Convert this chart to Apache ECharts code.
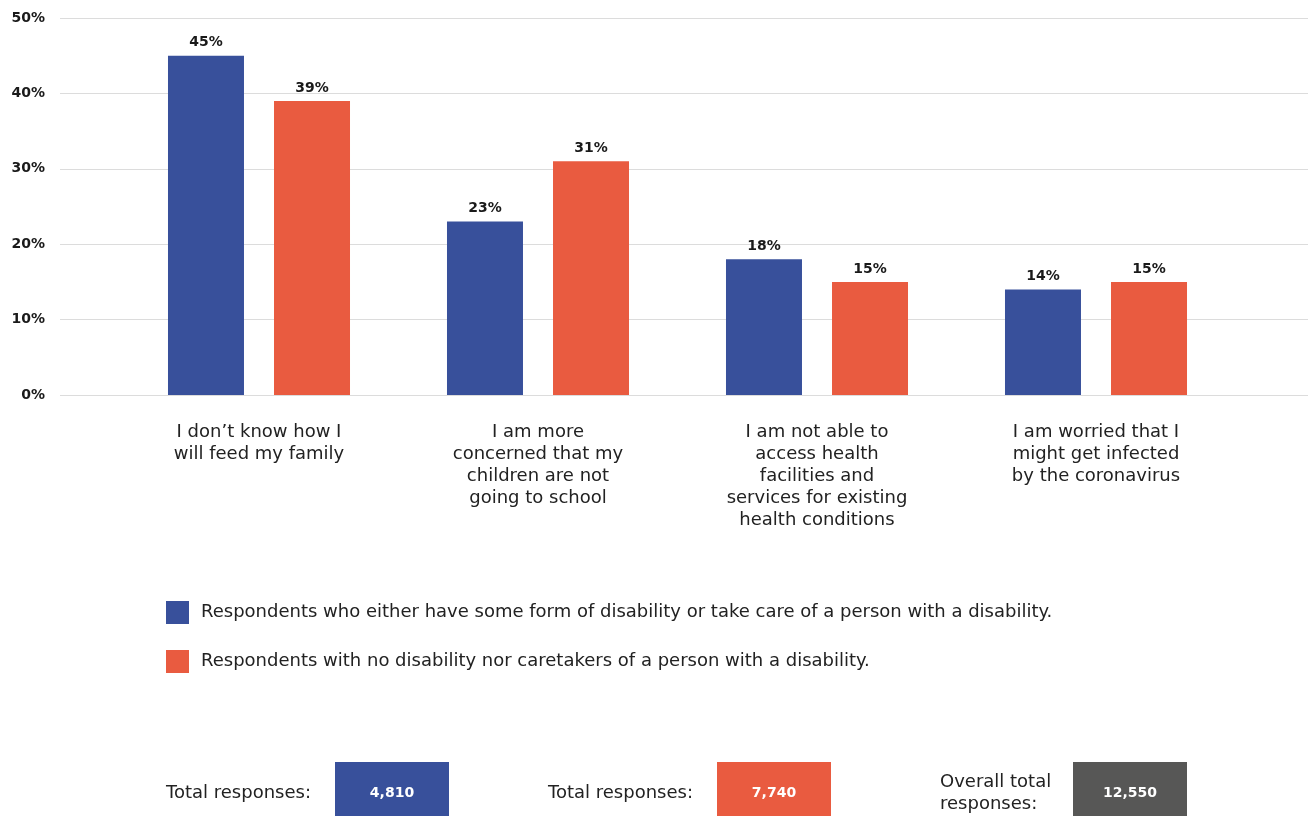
<!DOCTYPE html>
<html>
<head>
<meta charset="utf-8">
<script src="https://cdn.jsdelivr.net/npm/echarts@6/dist/echarts.min.js"></script>
<style>html,body{margin:0;padding:0;background:#fff}#c{width:1308px;height:816px}</style>
</head>
<body>
<div id="c"></div>
<script>
const categories = [
  "I don\u2019t know how I\nwill feed my family",
  "I am more\nconcerned that my\nchildren are not\ngoing to school",
  "I am not able to\naccess health\nfacilities and\nservices for existing\nhealth conditions",
  "I am worried that I\nmight get infected\nby the coronavirus"
];
const seriesNames = [
  "Respondents who either have some form of disability or take care of a person with a disability.",
  "Respondents with no disability nor caretakers of a person with a disability."
];
const disabilityValues = [45, 23, 18, 14];
const noDisabilityValues = [39, 31, 15, 15];
const yTicks = [0, 10, 20, 30, 40, 50];
const totalLabels = ["Total responses:", "Total responses:", "Overall total\nresponses:"];
const totalValues = ["4,810", "7,740", "12,550"];

const BLUE = "#38509B", ORANGE = "#E95B40", GRAY = "#575756";
const FONT = "DejaVu Sans";
const FS = 18;

const chart = echarts.init(document.getElementById('c'), null, {renderer: 'canvas'});
const valueLabel = {show: true, position: 'top', distance: 6, formatter: '{c}%', fontFamily: FONT, fontWeight: 'bold', fontSize: 14, color: '#1a1a1a'};

const boxX = [335, 717, 1073];
const textX = [166, 548, 940];
const graphics = [];
totalValues.forEach((v, i) => {
  graphics.push({type: 'rect', left: boxX[i], top: 762, shape: {width: 114, height: 54}, style: {fill: [BLUE, ORANGE, GRAY][i]}});
  graphics.push({type: 'text', x: boxX[i] + 57, y: 793, style: {text: v, fill: '#fff', font: 'bold 14px ' + FONT, align: 'center', verticalAlign: 'middle'}});
  graphics.push({type: 'text', x: textX[i], y: 793, style: {text: totalLabels[i], fill: '#222', font: FS + 'px ' + FONT, align: 'left', verticalAlign: 'middle', lineHeight: 22}});
});

chart.setOption({
  animation: false,
  textStyle: {fontFamily: FONT},
  grid: [
    {left: 119.5, width: 1116, top: 18, bottom: 421},
    {left: 60, right: 0, top: 18, bottom: 421}
  ],
  legend: {
    orient: 'vertical', left: 166, top: 601, padding: 0, itemWidth: 23, itemHeight: 23, itemGap: 26,
    icon: 'rect',
    textStyle: {fontSize: FS, color: '#222', fontFamily: FONT, padding: [0, 0, 0, 7]},
    data: seriesNames
  },
  xAxis: [
    {type: 'category', gridIndex: 0, data: categories,
     axisLine: {show: false}, axisTick: {show: false},
     axisLabel: {interval: 0, fontSize: FS, color: '#222', lineHeight: 22, margin: 26, fontFamily: FONT}},
    {type: 'value', gridIndex: 1, show: false, min: 0, max: 1}
  ],
  yAxis: [
    {type: 'value', gridIndex: 0, min: 0, max: 50, interval: 10, show: false},
    {type: 'value', gridIndex: 1, min: yTicks[0], max: yTicks[yTicks.length - 1], interval: 10,
     axisLine: {show: false}, axisTick: {show: false},
     axisLabel: {formatter: '{value}%', fontFamily: FONT, fontWeight: 'bold', fontSize: 14, color: '#1a1a1a', margin: 15},
     splitLine: {lineStyle: {color: '#dcdcdc', width: 1}}}
  ],
  series: [
    {name: seriesNames[0], type: 'bar', xAxisIndex: 0, yAxisIndex: 0, data: disabilityValues, barWidth: 76, barGap: '39.5%', itemStyle: {color: BLUE}, label: valueLabel},
    {name: seriesNames[1], type: 'bar', xAxisIndex: 0, yAxisIndex: 0, data: noDisabilityValues, barWidth: 76, barGap: '39.5%', itemStyle: {color: ORANGE}, label: valueLabel}
  ],
  graphic: graphics
});
</script>
</body>
</html>
